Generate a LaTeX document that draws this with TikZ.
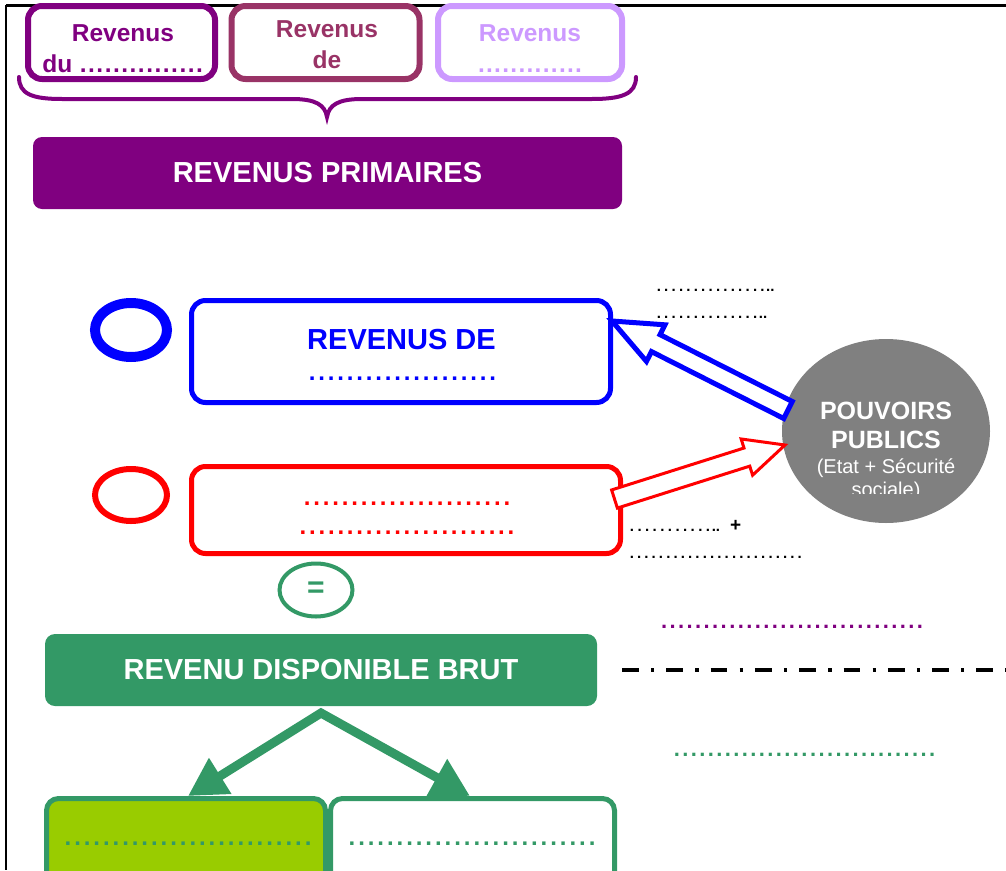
\documentclass[tikz,border=0pt]{standalone}
\usepackage{fontspec}
\setmainfont{Liberation Sans}
\usetikzlibrary{calc,shapes.geometric,arrows.meta}
\definecolor{cPurple}{HTML}{800080}
\definecolor{cPlum}{HTML}{993366}
\definecolor{cLav}{HTML}{CC99FF}
\definecolor{cBlue}{HTML}{0000FF}
\definecolor{cRed}{HTML}{FF0000}
\definecolor{cGreen}{HTML}{339966}
\definecolor{cLime}{HTML}{99CC00}
\definecolor{cGray}{HTML}{808080}
\newcommand\dotrow[2]{\hbox to \dimexpr #2*#1\relax{\leaders\hbox to #2{\hss.\hss}\hfill}}
\newcommand\blockarrow[6]{%
  \coordinate (ba-h) at ($(#3)!#6!(#2)$);
  \draw[#1] ($(#2)!#4!90:(#3)$) -- ($(ba-h)!#4!90:(#3)$) -- ($(ba-h)!#5!90:(#3)$) -- (#3)
    -- ($(ba-h)!#5!-90:(#3)$) -- ($(ba-h)!#4!-90:(#3)$) -- ($(#2)!#4!-90:(#3)$) -- cycle;}
\begin{document}
\begin{tikzpicture}[x=1pt,y=-1pt,
  topbox/.style={draw=#1, rounded corners=14pt, line width=6pt, minimum height=73pt, inner sep=0pt},
  toptext/.style={text=#1, align=center, inner sep=0pt, font=\bfseries\fontsize{24.5}{31}\selectfont},
  ovalmark/.style={ellipse, draw=#1, inner sep=0pt},
  bigtitle/.style={rounded corners=9pt, text=white, inner sep=0pt, font=\bfseries\fontsize{29}{34}\selectfont},
  framebox/.style={draw=#1, rounded corners=14pt, line width=5pt, inner sep=0pt},
  dotline/.style={text=#1, inner sep=0pt, anchor=base, font=\bfseries\fontsize{24}{28}\selectfont},
  smalldots/.style={inner sep=0pt, anchor=base west, font=\bfseries\fontsize{15}{18}\selectfont},
  greenarrow/.style={draw=cGreen, line width=9pt, line join=miter,
     {Triangle[length=38pt,width=40pt]}-{Triangle[length=38pt,width=40pt]}}
]
\useasboundingbox (0,0) rectangle (1006,870);
% frame
\coordinate (f0) at (6.3,5.3);
\coordinate (f1) at (1006,5.3);
\coordinate (f2) at (6.3,870);
\draw[line width=3pt] (f0) -- (f1);
\draw[line width=2pt] (f0) -- (f2);

% top boxes
\node[topbox=cPurple, minimum width=187pt] (b1) at (121.5,42.5) {};
\node[topbox=cPlum, minimum width=188pt] (b2) at (325.5,42.5) {};
\node[topbox=cLav, minimum width=184pt] (b3) at (530,42.5) {};
\node[toptext=cPurple] (b1t) at (123,49) {Revenus\\du \dotrow{15}{8.3pt}};
\node[toptext=cPlum] (b2t) at (327,45) {Revenus\\de};
\node[toptext=cLav] (b3t) at (530,49) {Revenus\\\dotrow{13}{8.1pt}};

% brace
\draw[cPurple, line width=4pt, line cap=round]
  (19,77) .. controls (19,94) and (32,99) .. (62,99) -- (292,99)
  .. controls (316,99) and (325,105) .. (327,117)
  .. controls (329,105) and (338,99) .. (362,99) -- (592,99)
  .. controls (622,99) and (636,94) .. (636,77);

% revenus primaires
\node[bigtitle, fill=cPurple, minimum width=589pt, minimum height=72pt] (rp) at (327.5,173) {REVENUS PRIMAIRES};

% gray ellipse
\node[ellipse, fill=cGray, minimum width=208pt, minimum height=184pt, inner sep=0pt] (pp) at (886,431) {};
\node[text=white, align=center, inner sep=0pt, font=\bfseries\fontsize{25}{29}\selectfont] (ppt) at (886,425.5) {POUVOIRS\\PUBLICS};
\begin{scope}
\clip (780,300) rectangle (1000,493);
\node[text=white, align=center, inner sep=0pt, font=\fontsize{20}{23}\selectfont] (pps) at (886,479.3) {(Etat + Sécurité\\sociale)};
\end{scope}

% blue part
\node[ovalmark=cBlue, line width=10pt, minimum width=72pt, minimum height=54pt] (be) at (131,330) {};
\node[framebox=cBlue, minimum width=419pt, minimum height=102pt] (rd) at (401,351.5) {};
\node[anchor=base, inner sep=0pt, text=cBlue, font=\bfseries\fontsize{29}{34}\selectfont] (rdt) at (401.5,349.5) {REVENUS DE};
\node[dotline=cBlue] (rdd) at (402.5,380) {\dotrow{20}{9.5pt}};

% red part
\node[ovalmark=cRed, line width=6pt, minimum width=72pt, minimum height=52pt] (re) at (131,495) {};
\node[framebox=cRed, minimum width=429pt, minimum height=87pt] (rr) at (406,510) {};
\node[dotline=cRed] (rrd1) at (407,505) {\dotrow{22}{9.5pt}};
\node[dotline=cRed] (rrd2) at (407,534) {\dotrow{23}{9.45pt}};

% block arrows
\coordinate (gb) at (788,410);
\coordinate (bt) at (612,321);
\blockarrow{draw=cBlue, fill=white, line width=5pt, line join=miter}{gb}{bt}{9.5pt}{20.5pt}{49pt}
\coordinate (rt0) at (614.5,499);
\coordinate (rt1) at (785,445);
\blockarrow{draw=cRed, fill=white, line width=3pt, line join=miter}{rt0}{rt1}{9.5pt}{19pt}{40pt}

% right side dotted texts
\node[smalldots] (s1) at (655,291) {\dotrow{15}{7.4pt}..};
\node[smalldots] (s2) at (655,318) {\dotrow{14}{7.4pt}..};
\node[smalldots] (s3) at (628,531.5) {\dotrow{11}{7.6pt}..\hspace{10pt}{\fontsize{19}{20}\selectfont +}};
\node[smalldots] (s4) at (628,558.5) {\dotrow{24}{7.3pt}};
\node[dotline=cPurple, font=\bfseries\fontsize{22}{26}\selectfont] (pdl) at (792,628) {\dotrow{31}{8.53pt}};
\node[dotline=cGreen, font=\bfseries\fontsize{22}{26}\selectfont] (gdl) at (804.5,756) {\dotrow{31}{8.5pt}};

% equals
\node[ovalmark=cGreen, line width=4pt, minimum width=73pt, minimum height=53pt, text=cGreen, font=\bfseries\fontsize{30}{34}\selectfont] (eq) at (316,590) {=};

% RDB
\node[bigtitle, fill=cGreen, rounded corners=10pt, minimum width=552pt, minimum height=72pt] (rdb) at (321,670) {REVENU DISPONIBLE BRUT};

% dash-dot line
\coordinate (dd0) at (622,670);
\coordinate (dd1) at (1006,670);
\draw[line width=3.5pt, dash pattern=on 16.7pt off 12.3pt on 3.3pt off 12pt] (dd0) -- (dd1);

% bottom boxes
\node[framebox=cGreen, rounded corners=12pt, fill=cLime, minimum width=279pt, minimum height=90pt] (bl) at (186,843.5) {};
\node[framebox=cGreen, rounded corners=12pt, fill=white, minimum width=284pt, minimum height=90pt] (br) at (472.5,843.5) {};
\node[dotline=cGreen] (bld) at (188,845) {\dotrow{26}{9.6pt}};
\node[dotline=cGreen] (brd) at (472,845) {\dotrow{26}{9.6pt}};

% green arrows
\coordinate (apex) at (321,713);
\coordinate (lt) at (188,796);
\coordinate (rtp) at (470,796);
\draw[greenarrow] (lt) -- (apex) -- (rtp);
\end{tikzpicture}
\end{document}
